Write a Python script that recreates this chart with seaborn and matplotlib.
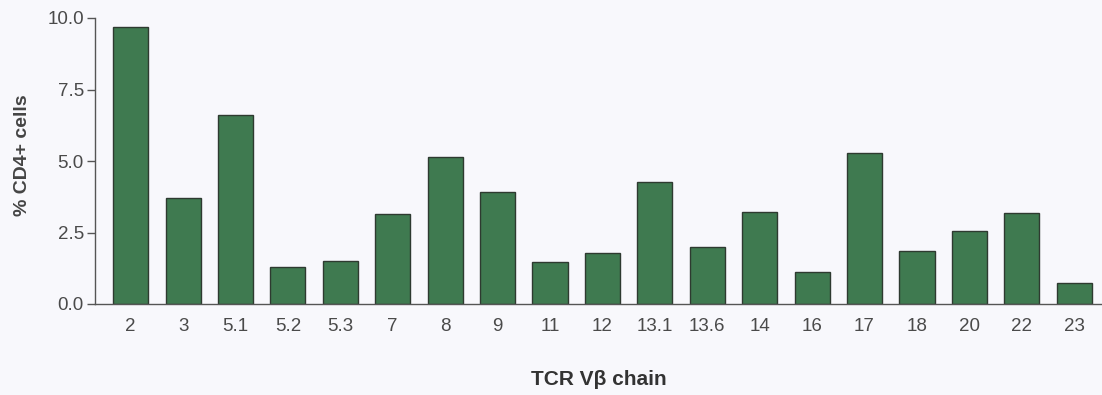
import matplotlib
matplotlib.use("Agg")
import matplotlib.pyplot as plt
import seaborn as sns
import pandas as pd

# TCR V-beta chain usage among CD4+ cells
chains = ["2", "3", "5.1", "5.2", "5.3", "7", "8", "9", "11", "12",
          "13.1", "13.6", "14", "16", "17", "18", "20", "22", "23"]
percent_cd4 = [9.68, 3.71, 6.61, 1.28, 1.49, 3.14, 5.14, 3.93, 1.48, 1.79,
               4.25, 1.99, 3.23, 1.13, 5.27, 1.84, 2.54, 3.18, 0.73]
y_ticks = [0.0, 2.5, 5.0, 7.5, 10.0]

df = pd.DataFrame({"chain": chains, "pct": percent_cd4})

sns.set_theme(style="ticks")
plt.rcParams["font.family"] = ["Liberation Sans", "DejaVu Sans"]

bg = "#f8f8fc"
ink = "#4a4a4a"

fig = plt.figure(figsize=(11.02, 3.95), dpi=100, facecolor=bg)
ax = fig.add_axes([95 / 1102, 91 / 395, 1 - 95 / 1102, 286 / 395])
ax.set_facecolor(bg)

sns.barplot(data=df, x="chain", y="pct", order=chains, color="#3f7a50",
            saturation=1, width=0.67, edgecolor="#2e3a30", linewidth=1.0, ax=ax)

ax.set_ylim(0, 10)
ax.set_xlim(-0.68, len(chains) - 1 + 0.53)
ax.set_yticks(y_ticks)
ax.set_yticklabels([f"{t:.1f}" for t in y_ticks])

for side in ["top", "right"]:
    ax.spines[side].set_visible(False)
for side in ["left", "bottom"]:
    ax.spines[side].set_color("#555555")
    ax.spines[side].set_linewidth(1.0)

ax.tick_params(axis="y", direction="out", length=6, width=1, color="#555555",
               labelsize=13.5, labelcolor=ink, pad=2)
ax.tick_params(axis="x", length=0, labelsize=13.5, labelcolor=ink, pad=10)

ax.set_xlabel("TCR V\u03b2 chain", fontsize=15, fontweight="bold", color="#333333",
              labelpad=25)
ax.set_ylabel("% CD4+ cells", fontsize=14, fontweight="bold", color="#444444",
              labelpad=14)
ax.yaxis.set_label_coords(-0.064, 0.52)

fig.savefig("out.png", dpi=100, facecolor=bg)
